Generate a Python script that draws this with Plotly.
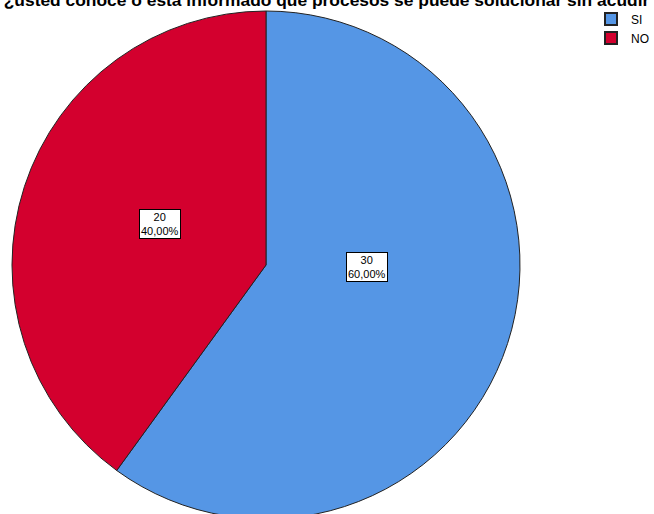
import plotly.graph_objects as go

labels = ["SI", "NO"]
values = [30, 20]
colors = ["#5596E5", "#D3002E"]
title_text = "¿usted conoce o esta informado que procesos se puede solucionar sin acudir"

W, H = 654, 522  # figure slightly taller than the window: pie is cut at the bottom as in the reference
total = sum(values)
pct = [v / total * 100 for v in values]
box_text = [f"{v}<br>{p:.2f}%".replace(".", ",") for v, p in zip(values, pct)]

fig = go.Figure(go.Pie(
    labels=labels,
    values=values,
    sort=False,
    direction="clockwise",
    rotation=0,
    marker=dict(colors=colors, line=dict(color="#222222", width=1)),
    textinfo="none",
    hoverinfo="label+value+percent",
    domain=dict(x=[12 / W, 520 / W], y=[1 - 519 / H, 1 - 11 / H]),
))

# label boxes placed inside slices
label_pos = [(367 / W, 1 - 267 / H), (139 / W, 1 - 224 / H)]
for (x, y), t in zip(label_pos, box_text):
    fig.add_annotation(
        x=x, y=y, xref="paper", yref="paper", text=t, showarrow=False,
        font=dict(family="Liberation Sans, Arial", size=11, color="#000000"),
        bgcolor="#FFFFFF", bordercolor="#000000", borderwidth=1, borderpad=1,
        align="center",
    )

fig.update_layout(
    width=W, height=H,
    margin=dict(l=0, r=0, t=0, b=0, autoexpand=False),
    paper_bgcolor="#FFFFFF",
    plot_bgcolor="#FFFFFF",
    title=dict(
        text=f"<b>{title_text}</b>",
        x=326.5 / W, xanchor="center", xref="container",
        y=1, yanchor="middle", yref="container",
        font=dict(family="Liberation Sans, Arial", size=17.4, color="#000000"),
    ),
    showlegend=True,
    legend=dict(
        x=1, y=1 - 4.5 / H, xanchor="right", yanchor="top",
        font=dict(family="Liberation Sans, Arial", size=12, color="#000000"),
        bgcolor="rgba(0,0,0,0)", tracegroupgap=0, itemsizing="constant",
        itemwidth=30,
    ),
)

fig.write_html(
    "out.html",
    config={"displayModeBar": False},
    post_script="document.body.style.margin='0';document.body.style.overflow='hidden';",
)
